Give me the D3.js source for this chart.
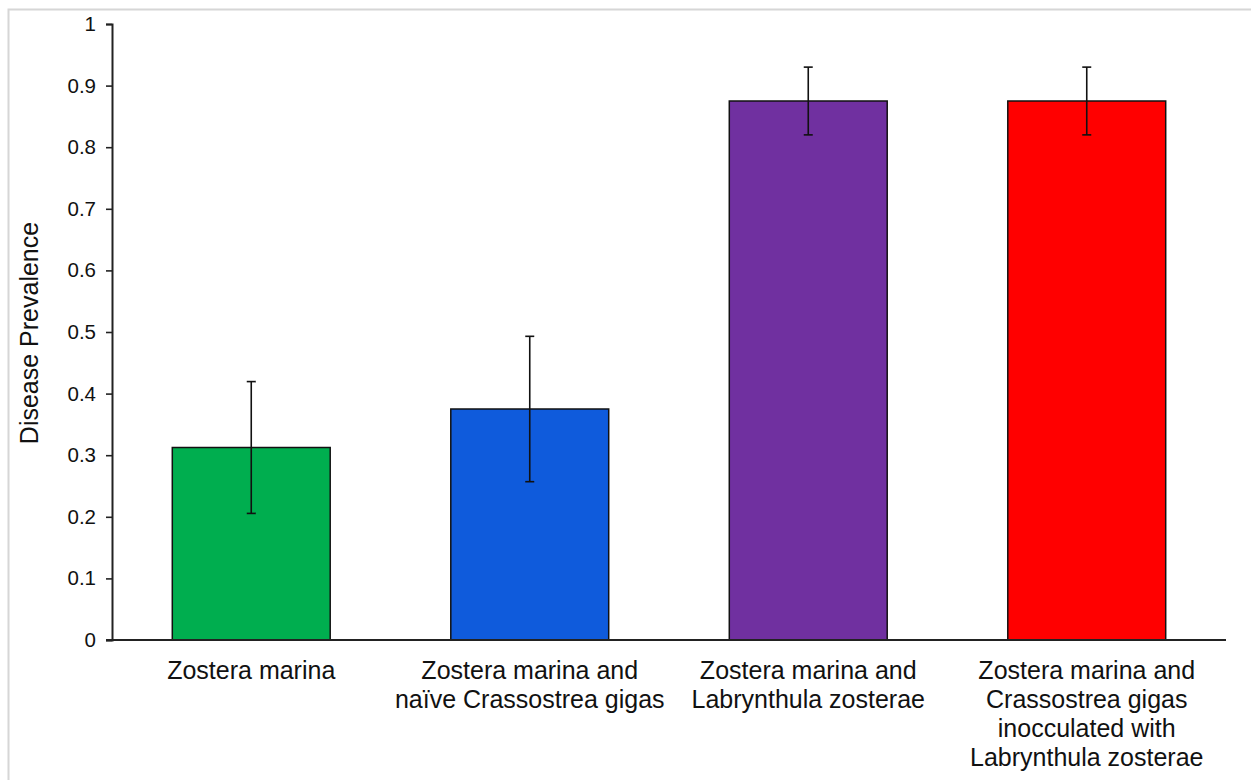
<!DOCTYPE html>
<html>
<head>
<meta charset="utf-8">
<script src="https://cdn.jsdelivr.net/npm/d3@7"></script>
<style>
  body { margin: 0; background: #fff; }
  text { font-family: "Liberation Sans", Arial, sans-serif; fill: #111; }
</style>
</head>
<body>
<div id="chart"></div>
<script>
const categories = [
  ['Zostera marina'],
  ['Zostera marina and', 'naïve Crassostrea gigas'],
  ['Zostera marina and', 'Labrynthula zosterae'],
  ['Zostera marina and', 'Crassostrea gigas', 'inocculated with', 'Labrynthula zosterae']
];
const prevalence = [0.3125, 0.375, 0.875, 0.875];
const errors = [0.107, 0.118, 0.055, 0.055];
const colors = ['#00AE4F', '#0F5BDC', '#7030A0', '#FF0000'];
const yTicks = [0, 0.1, 0.2, 0.3, 0.4, 0.5, 0.6, 0.7, 0.8, 0.9, 1];

const W = 1251, H = 780;
const m = { left: 112, right: 25, top: 24, bottom: 140 };

const svg = d3.select('#chart').append('svg')
  .attr('width', W)
  .attr('height', H);

// faint frame around the picture
svg.append('rect')
  .attr('x', 8.5).attr('y', 9.5)
  .attr('width', W + 20).attr('height', H + 20)
  .attr('fill', 'none')
  .attr('stroke', '#d6d6d6')
  .attr('stroke-width', 2);

const x = d3.scaleBand()
  .domain(d3.range(categories.length))
  .range([m.left, W - m.right])
  .paddingInner(0.433)
  .paddingOuter(0.2165);

const y = d3.scaleLinear()
  .domain([0, 1])
  .range([H - m.bottom, m.top]);

const g = svg.append('g');

// bars
g.selectAll('.bar')
  .data(prevalence)
  .enter().append('rect')
    .attr('class', 'bar')
    .attr('x', (d, i) => x(i))
    .attr('y', d => y(d))
    .attr('width', x.bandwidth())
    .attr('height', d => y(0) - y(d))
    .attr('fill', (d, i) => colors[i])
    .attr('stroke', '#111')
    .attr('stroke-width', 1.5);

// error bars
const eb = g.selectAll('.err')
  .data(prevalence)
  .enter().append('g')
    .attr('class', 'err')
    .attr('stroke', '#111')
    .attr('stroke-width', 1.6);

eb.append('line')
  .attr('x1', (d, i) => x(i) + x.bandwidth() / 2)
  .attr('x2', (d, i) => x(i) + x.bandwidth() / 2)
  .attr('y1', (d, i) => y(d + errors[i]))
  .attr('y2', (d, i) => y(d - errors[i]));

[1, -1].forEach(s => {
  eb.append('line')
    .attr('x1', (d, i) => x(i) + x.bandwidth() / 2 - 4.5)
    .attr('x2', (d, i) => x(i) + x.bandwidth() / 2 + 4.5)
    .attr('y1', (d, i) => y(d + s * errors[i]))
    .attr('y2', (d, i) => y(d + s * errors[i]));
});

// y axis
const yAxis = svg.append('g')
  .attr('transform', `translate(${m.left},0)`)
  .call(d3.axisLeft(y).tickValues(yTicks).tickSize(6).tickPadding(10)
    .tickFormat(d => d3.format('~g')(d)));
yAxis.select('.domain').attr('stroke', '#222').attr('stroke-width', 2);
yAxis.selectAll('.tick line').attr('stroke', '#222').attr('stroke-width', 1.6);
yAxis.selectAll('.tick text')
  .attr('font-size', 20.5)
  .style('font-family', '"Liberation Sans", Arial, sans-serif')
  .attr('fill', '#111');

// x axis line
svg.append('line')
  .attr('x1', m.left - 6).attr('x2', W - m.right)
  .attr('y1', y(0)).attr('y2', y(0))
  .attr('stroke', '#222')
  .attr('stroke-width', 2);

// category labels
const lbl = svg.selectAll('.xlab')
  .data(categories)
  .enter().append('text')
    .attr('class', 'xlab')
    .attr('text-anchor', 'middle')
    .attr('font-size', 25)
    .attr('x', (d, i) => x(i) + x.bandwidth() / 2)
    .attr('y', y(0) + 39);

lbl.selectAll('tspan')
  .data(d => d)
  .enter().append('tspan')
    .attr('x', function() { return d3.select(this.parentNode).attr('x'); })
    .attr('dy', (d, i) => i === 0 ? 0 : 29)
    .text(d => d);

// y axis title
svg.append('text')
  .attr('transform', `translate(38,${y(0.5) + 1}) rotate(-90)`)
  .attr('text-anchor', 'middle')
  .attr('font-size', 25)
  .text('Disease Prevalence');
</script>
</body>
</html>
